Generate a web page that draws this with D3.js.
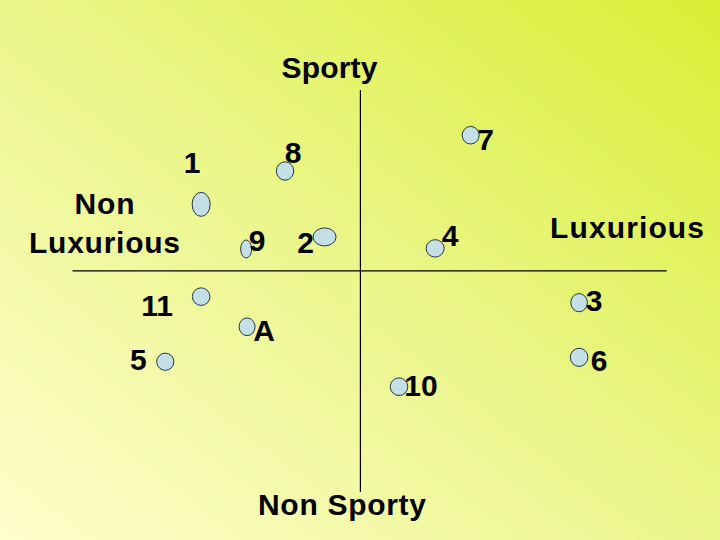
<!DOCTYPE html>
<html>
<head>
<meta charset="utf-8">
<script src="https://cdn.jsdelivr.net/npm/d3@7"></script>
<style>
  html, body { margin: 0; padding: 0; }
  #map { width: 720px; height: 540px; }
  #map text {
    font-family: 'Liberation Sans', Arial, sans-serif;
    font-weight: bold;
    font-size: 30px;
    fill: #000;
  }
</style>
</head>
<body>
<div id="map"></div>
<script>
/* ── data: perceptual map, brand positions ─────────────────── */
const brands     = ["1", "8", "9", "2", "11", "A", "5", "7", "4", "3", "6", "10"];
const luxury     = [-5.20, -2.46, -3.73, -1.17, -5.20, -3.70, -6.37, 3.60, 2.44, 7.14, 7.14, 1.26];
const sportiness = [ 3.31,  4.97,  1.09,  1.69, -1.28, -2.78, -4.52, 6.75, 1.12, -1.58, -4.30, -5.76];

const axisLabels = { top: "Sporty", bottom: "Non Sporty", left: ["Non", "Luxurious"], right: "Luxurious" };
const xExtent = [-9.4, 10];
const yExtent = [-11, 9];

/* ── layout ────────────────────────────────────────────────── */
const W = 720, H = 540;

const svg = d3.select("#map").append("svg")
  .attr("width", W).attr("height", H);

// background gradient, pale yellow (bottom-left) -> lime (top-right)
const grad = svg.append("defs").append("linearGradient")
  .attr("id", "bg").attr("x1", 0).attr("y1", 1).attr("x2", 1).attr("y2", 0);
grad.append("stop").attr("offset", "0%").attr("stop-color", "#fdfecb");
grad.append("stop").attr("offset", "50%").attr("stop-color", "#ebf68b");
grad.append("stop").attr("offset", "100%").attr("stop-color", "#d8ef34");

svg.append("rect").attr("width", W).attr("height", H).attr("fill", "url(#bg)");

const x = d3.scaleLinear().domain(xExtent).range([72.5, 666.7]);
const y = d3.scaleLinear().domain(yExtent).range([492, 90]);

// axes (crossing at 0,0)
svg.append("line")
  .attr("x1", x(xExtent[0])).attr("x2", x(xExtent[1]))
  .attr("y1", y(0)).attr("y2", y(0))
  .attr("stroke", "#000").attr("stroke-width", 1.2);
svg.append("line")
  .attr("x1", x(0)).attr("x2", x(0))
  .attr("y1", y(yExtent[0])).attr("y2", y(yExtent[1]))
  .attr("stroke", "#000").attr("stroke-width", 1.2);

// axis end labels
svg.append("text").attr("x", 329.5).attr("y", 77.5)
  .attr("text-anchor", "middle").attr("textLength", 96).text(axisLabels.top);
svg.append("text").attr("x", 342).attr("y", 515)
  .attr("text-anchor", "middle").attr("textLength", 168).text(axisLabels.bottom);
svg.append("text").attr("x", 627).attr("y", 237.5)
  .attr("text-anchor", "middle").attr("textLength", 154).text(axisLabels.right);
svg.append("text").attr("x", 104.5).attr("y", 214)
  .attr("text-anchor", "middle").attr("textLength", 60).text(axisLabels.left[0]);
svg.append("text").attr("x", 104.5).attr("y", 253)
  .attr("text-anchor", "middle").attr("textLength", 151).text(axisLabels.left[1]);

/* ── points ────────────────────────────────────────────────── */
// marker shape and label offset per brand (pixels), as drawn on the slide
const shape = {
  "1":  { rx: 9,    ry: 12,  dx: -9,  dy: -31 },
  "8":  { rx: 8.7,  ry: 9.2, dx: 8,   dy: -8 },
  "9":  { rx: 5.5,  ry: 9,   dx: 11,  dy: 2 },
  "2":  { rx: 11.5, ry: 9,   dx: -19, dy: 16 },
  "11": { rx: 8.8,  ry: 8.8, dx: -44, dy: 19 },
  "A":  { rx: 8,    ry: 8.8, dx: 17,  dy: 14 },
  "5":  { rx: 8.6,  ry: 8.6, dx: -27, dy: 8 },
  "7":  { rx: 8.5,  ry: 8.8, dx: 15,  dy: 15 },
  "4":  { rx: 9,    ry: 8.7, dx: 15,  dy: -2 },
  "3":  { rx: 8.3,  ry: 9.1, dx: 15,  dy: 8 },
  "6":  { rx: 8.8,  ry: 9.1, dx: 20,  dy: 14 },
  "10": { rx: 8.8,  ry: 8.8, dx: 22,  dy: 9 }
};

const pts = brands.map((b, i) => ({ name: b, lx: luxury[i], sp: sportiness[i] }));

const g = svg.append("g").selectAll("g")
  .data(pts).join("g")
  .attr("transform", d => `translate(${x(d.lx)},${y(d.sp)})`);

g.append("ellipse")
  .attr("rx", d => shape[d.name].rx)
  .attr("ry", d => shape[d.name].ry)
  .attr("fill", "#c4dfe6")
  .attr("stroke", "#22384a")
  .attr("stroke-width", 1);

g.append("text")
  .attr("x", d => shape[d.name].dx)
  .attr("y", d => shape[d.name].dy)
  .attr("text-anchor", "middle")
  .text(d => d.name);
</script>
</body>
</html>
